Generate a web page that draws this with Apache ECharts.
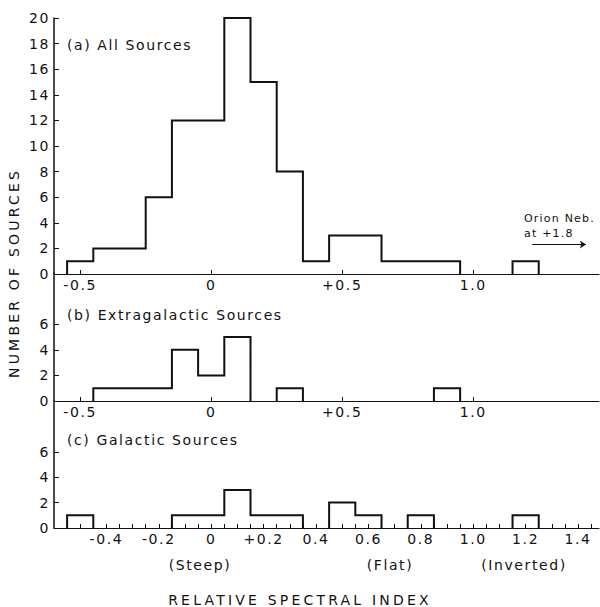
<!DOCTYPE html>
<html>
<head>
<meta charset="utf-8">
<script src="https://cdn.jsdelivr.net/npm/echarts@6/dist/echarts.min.js"></script>
<style>
  html, body { margin: 0; padding: 0; background: #fff; }
  #chart { width: 600px; height: 607px; }
  #chart text { letter-spacing: 1.6px; }
</style>
</head>
<body>
<div id="chart"></div>
<script>
// Histogram bins: centres of 0.1-wide bins of relative spectral index
const binCenters = [-0.5, -0.4, -0.3, -0.2, -0.1, 0.0, 0.1, 0.2, 0.3, 0.4, 0.5, 0.6, 0.7, 0.8, 0.9, 1.0, 1.1, 1.2];
const binWidth = 0.1;

// Number of sources per bin
const allSources    = [1, 2, 2, 6, 12, 12, 20, 15, 8, 1, 3, 3, 1, 1, 1, 0, 0, 1];
const extragalactic = [0, 1, 1, 1, 4, 2, 5, 0, 1, 0, 0, 0, 0, 0, 1, 0, 0, 0];
const galactic      = [1, 0, 0, 0, 1, 1, 3, 1, 1, 0, 2, 1, 0, 1, 0, 0, 0, 1];

// Axis ticks and labels
const indexTicksAB   = [-0.5, 0, 0.5, 1.0];
const indexLabelsC   = [-0.4, -0.2, 0, 0.2, 0.4, 0.6, 0.8, 1.0, 1.2, 1.4];
const indexMinorC    = [-0.5, -0.45, -0.4, -0.35, -0.3, -0.25, -0.2, -0.15, -0.1, -0.05, 0, 0.05, 0.1, 0.15, 0.2,
                        0.25, 0.3, 0.35, 0.4, 0.45, 0.5, 0.55, 0.6, 0.65, 0.7, 0.75, 0.8, 0.85, 0.9, 0.95, 1.0,
                        1.05, 1.1, 1.15, 1.2, 1.25, 1.3, 1.35, 1.4, 1.45];
const countTicksA    = [0, 2, 4, 6, 8, 10, 12, 14, 16, 18, 20];
const countTicksBC   = [0, 2, 4, 6];

// Orion Nebula lies off scale at +1.8: arrow in (index, count) units
const orionArrow = [[1.225, 2.3], [1.43, 2.3]];

const FONT = 'DejaVu Sans';
const INK = '#111';

const r3 = v => Math.round(v * 1000) / 1000;

// Outline of a histogram: one polyline per run of non-empty bins
function outline(counts) {
  const runs = [];
  let i = 0;
  while (i < counts.length) {
    if (counts[i] === 0) { i++; continue; }
    const pts = [[r3(binCenters[i] - binWidth / 2), 0]];
    while (i < counts.length && counts[i] > 0) {
      pts.push([r3(binCenters[i] - binWidth / 2), counts[i]]);
      pts.push([r3(binCenters[i] + binWidth / 2), counts[i]]);
      i++;
    }
    pts.push([r3(binCenters[i - 1] + binWidth / 2), 0]);
    runs.push({ coords: pts });
  }
  return runs;
}

function fmtAB(v) {
  if (v === 0) return '0';
  if (v === 1) return '1.0';
  return (v > 0 ? '+' : '') + v;
}
function fmtC(v) {
  if (Math.abs(v) < 1e-9) return '0';
  if (Math.abs(v - 0.2) < 1e-9) return '+0.2';
  return v.toFixed(1);
}

const grids = [
  { left: 54, top: 18,  width: 545, height: 256 },
  { left: 54, top: 273, width: 545, height: 128 },
  { left: 54, top: 401, width: 545, height: 127 }
];

function xAxis(idx, ticks, labels, fmt) {
  return {
    type: 'value', gridIndex: idx, min: -0.6, max: 1.48,
    axisLine: { show: true, onZero: false, lineStyle: { color: INK, width: 1 } },
    axisTick: { show: true, inside: true, length: 4, customValues: ticks, lineStyle: { color: INK, width: 1 } },
    axisLabel: { show: true, customValues: labels, formatter: fmt, margin: 4,
                 color: INK, fontFamily: FONT, fontSize: 14 },
    splitLine: { show: false }
  };
}
function yAxis(idx, max, ticks) {
  return {
    type: 'value', gridIndex: idx, min: 0, max: max,
    axisLine: { show: true, onZero: false, lineStyle: { color: INK, width: 1.5 } },
    axisTick: { show: true, inside: true, length: 5, customValues: ticks, lineStyle: { color: INK, width: 1 } },
    axisLabel: { show: true, customValues: ticks, margin: 4,
                 color: INK, fontFamily: FONT, fontSize: 14 },
    splitLine: { show: false }
  };
}

function histSeries(idx, counts) {
  return {
    type: 'lines', coordinateSystem: 'cartesian2d', polyline: true,
    xAxisIndex: idx, yAxisIndex: idx, silent: true,
    lineStyle: { color: INK, width: 2, opacity: 1 },
    data: outline(counts)
  };
}

const txt = (x, y, text, extra) => Object.assign({
  type: 'text', x: x, y: y, silent: true,
  style: Object.assign({ text: text, fill: INK, font: '14px ' + FONT, align: 'left', verticalAlign: 'middle' },
                       (extra && extra.style) || {})
}, extra && extra.rotation !== undefined ? { rotation: extra.rotation } : {});

const chart = echarts.init(document.getElementById('chart'), null, { renderer: 'svg' });
chart.setOption({
  animation: false,
  backgroundColor: '#fff',
  grid: grids,
  xAxis: [
    xAxis(0, indexTicksAB, indexTicksAB, fmtAB),
    xAxis(1, indexTicksAB, indexTicksAB, fmtAB),
    xAxis(2, indexMinorC, indexLabelsC, fmtC)
  ],
  yAxis: [
    yAxis(0, 20, countTicksA),
    yAxis(1, 10, countTicksBC),
    yAxis(2, 10, countTicksBC)
  ],
  series: [
    histSeries(0, allSources),
    histSeries(1, extragalactic),
    histSeries(2, galactic),
    {
      type: 'lines', coordinateSystem: 'cartesian2d', xAxisIndex: 0, yAxisIndex: 0, silent: true,
      symbol: ['none', 'arrow'], symbolSize: 6,
      lineStyle: { color: INK, width: 1.2, opacity: 1 },
      data: [{ coords: orionArrow }]
    }
  ],
  graphic: [
    txt(67, 45, '(a) All Sources'),
    txt(67, 315, '(b) Extragalactic Sources'),
    txt(67, 440, '(c) Galactic Sources'),
    txt(524, 218, 'Orion Neb.', { style: { font: '11px ' + FONT } }),
    txt(524, 233, 'at +1.8', { style: { font: '11px ' + FONT } }),
    txt(200, 565, '(Steep)', { style: { align: 'center' } }),
    txt(390, 565, '(Flat)', { style: { align: 'center' } }),
    txt(524, 565, '(Inverted)', { style: { align: 'center' } }),
    txt(300, 600, 'RELATIVE SPECTRAL INDEX', { style: { align: 'center' } }),
    txt(14, 273, 'NUMBER OF SOURCES', { rotation: Math.PI / 2, style: { align: 'center' } })
  ]
});

// Letter spacing of drafting-style lettering, per text
const spacing = {
  'RELATIVE SPECTRAL INDEX': '3.2px',
  'NUMBER OF SOURCES': '3.2px',
  'Orion Neb.': '1.2px',
  'at +1.8': '1.2px'
};
document.querySelectorAll('#chart text').forEach(t => {
  const s = spacing[t.textContent.trim()];
  if (s) t.style.letterSpacing = s;
});
</script>
</body>
</html>
